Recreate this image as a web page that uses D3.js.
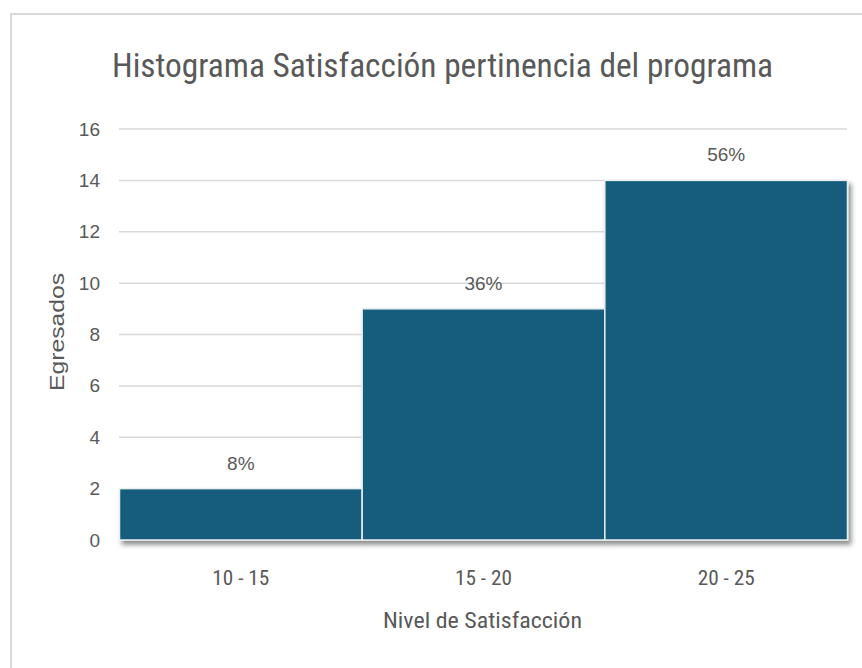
<!DOCTYPE html>
<html><head><meta charset="utf-8">
<script src="https://cdn.jsdelivr.net/npm/d3@7"></script>
<style>body{margin:0;background:#fff}svg{display:block}</style>
</head><body>
<script>
const categories = ["10 - 15", "15 - 20", "20 - 25"];
const counts = [2, 9, 14];
const percentLabels = ["8%", "36%", "56%"];
const yTicks = [0, 2, 4, 6, 8, 10, 12, 14, 16];
const title = "Histograma Satisfacción pertinencia del programa";
const xTitle = "Nivel de Satisfacción";
const yTitle = "Egresados";

const W = 862, H = 668;
const svg = d3.select("body").append("svg").attr("width", W).attr("height", H);
const defs = svg.append("defs");
const f = defs.append("filter").attr("id","sh").attr("x","-10%").attr("y","-10%").attr("width","130%").attr("height","130%");
f.append("feDropShadow").attr("dx",3).attr("dy",4).attr("stdDeviation",2.5).attr("flood-color","#000").attr("flood-opacity",0.45);

// frame
svg.append("rect").attr("x",11).attr("y",14).attr("width",W).attr("height",H)
  .attr("fill","#fff").attr("stroke","#d9d9d9").attr("stroke-width",2);

const narrow = "'Liberation Sans Narrow','Roboto Condensed','Arial Narrow','Liberation Sans',sans-serif";
const sans = "'Liberation Sans',Arial,sans-serif";

svg.append("text").attr("x",442.5).attr("y",77).attr("text-anchor","middle")
  .attr("font-family",narrow).attr("font-size",34).attr("fill","#595959")
  .attr("textLength",661).attr("lengthAdjust","spacingAndGlyphs").text(title);

const x = d3.scaleBand().domain(categories).range([119.5, 847.5]).padding(0);
const y = d3.scaleLinear().domain([0,16]).range([540,129]);

const grid = svg.append("g");
grid.selectAll("line").data(yTicks.filter(d=>d>0)).join("line")
  .attr("x1",119).attr("x2",847).attr("y1",d=>y(d)).attr("y2",d=>y(d))
  .attr("stroke","#d9d9d9").attr("stroke-width",1.5);

const yAxis = svg.append("g").attr("transform","translate(119,0)")
  .call(d3.axisLeft(y).tickValues(yTicks).tickSize(0).tickPadding(19));
yAxis.select(".domain").remove();
yAxis.selectAll("text").attr("font-family",sans).attr("font-size",19).attr("fill","#595959");

const data = categories.map((c,i)=>({c, v:counts[i], p:percentLabels[i]}));
svg.append("g").attr("filter","url(#sh)").selectAll("rect").data(data).join("rect")
  .attr("x",d=>x(d.c)).attr("width",x.bandwidth())
  .attr("y",d=>y(d.v)).attr("height",d=>y(0)-y(d.v))
  .attr("fill","#175d7d").attr("stroke","#e8eef2").attr("stroke-width",1.5);

svg.append("g").selectAll("text").data(data).join("text")
  .attr("x",d=>x(d.c)+x.bandwidth()/2).attr("y",d=>y(d.v)-19)
  .attr("text-anchor","middle").attr("font-family",sans).attr("font-size",19)
  .attr("fill","#595959").text(d=>d.p);

const xAxis = svg.append("g").attr("transform","translate(0,540)")
  .call(d3.axisBottom(x).tickSize(0).tickPadding(30));
xAxis.select(".domain").remove();
xAxis.selectAll("text").attr("font-family",narrow).attr("font-size",21).attr("fill","#595959")
  .attr("textLength",57).attr("lengthAdjust","spacingAndGlyphs");

svg.append("text").attr("x",482.5).attr("y",628).attr("text-anchor","middle")
  .attr("font-family",narrow).attr("font-size",22).attr("fill","#595959")
  .attr("textLength",199).attr("lengthAdjust","spacingAndGlyphs").text(xTitle);

svg.append("text").attr("transform","translate(64,332) rotate(-90)").attr("text-anchor","middle")
  .attr("font-family",sans).attr("font-size",20).attr("fill","#595959")
  .attr("textLength",118).attr("lengthAdjust","spacingAndGlyphs").text(yTitle);
</script>
</body></html>
